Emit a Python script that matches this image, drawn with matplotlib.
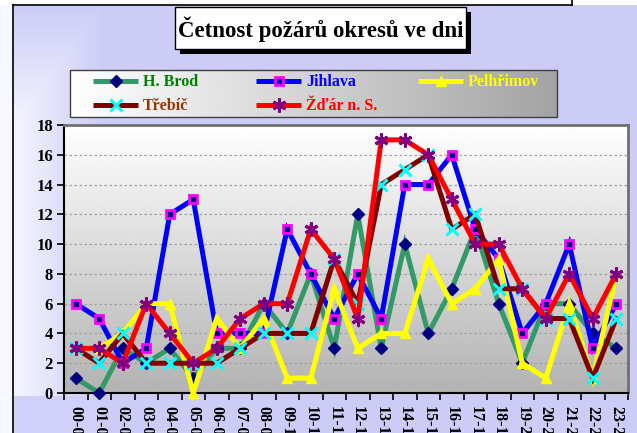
"""Četnost požárů okresů ve dni - line chart by hour of day."""

import matplotlib

matplotlib.use("Agg")
import matplotlib.pyplot as plt
from matplotlib.patches import Rectangle
import numpy as np

# hour intervals on the x axis
hours = [f"{h:02d}-{h + 1:02d}" for h in range(24)]

h_brod = [1, 0, 3, 2, 3, 1, 3, 3, 6, 4, 8, 3, 12, 3, 10, 4, 7, 11, 6, 2, 6, 6, 4, 3]
jihlava = [6, 5, 2, 3, 12, 13, 4, 4, 4, 11, 8, 5, 8, 5, 14, 14, 16, 11, 9, 4, 6, 10, 3, 6]
pelhrimov = [3, 3, 4, 6, 6, 0, 5, 3, 5, 1, 1, 7, 3, 4, 4, 9, 6, 7, 9, 2, 1, 6, 1, 8]
trebic = [3, 2, 4, 2, 2, 2, 2, 3, 4, 4, 4, 9, 6, 14, 15, 16, 11, 12, 7, 7, 5, 5, 1, 5]
zdar = [3, 3, 2, 6, 4, 2, 3, 5, 6, 6, 11, 9, 5, 17, 17, 16, 13, 10, 10, 7, 5, 8, 5, 8]

series_names = ["H. Brod", "Jihlava", "Pelhřimov", "Třebíč", "Žďár n. S."]
series_values = [h_brod, jihlava, pelhrimov, trebic, zdar]

TITLE = "Četnost požárů okresů ve dni"
FONT = "Liberation Serif"
W, H = 637, 433

# line colour, marker, marker face, marker edge, size, edge width, label colour
STYLES = [
    ("#339966", "D", "#000080", "#000080", 6.5, 1.0, "#008000"),
    ("#0000FF", "s", "#000080", "#FF00FF", 6.0, 2.0, "#0000FF"),
    ("#FFFF00", "^", "#FFFF00", "#FFFF00", 7.0, 1.0, "#FFFF00"),
    ("#800000", "x", "#00FFFF", "#00FFFF", 8.0, 2.2, "#993300"),
    ("#FF0000", (6, 2, 0), "#800080", "#800080", 10.0, 2.2, "#FF0000"),
]
# legend slots in pixels: (line x0, line x1, y)
LEGEND_SLOTS = [(93, 138, 81), (256, 301, 81), (418, 463, 81),
                (93, 138, 105), (256, 301, 105)]

fig = plt.figure(figsize=(W / 100, H / 100), dpi=100)

# ---- background canvas in pixel coordinates
bg = fig.add_axes([0, 0, 1, 1], zorder=0)
bg.set_xlim(0, W)
bg.set_ylim(H, 0)
bg.axis("off")

yy, xx = np.mgrid[0:H, 0:W]
s = np.maximum(np.clip((xx - 13) / 90.0, 0, 1), np.clip(1 - (yy - 5) / 120.0, 0, 1))
s = np.where(yy > 395, np.maximum(s, 0.9), s)
light = np.array([0.96, 0.96, 1.0])
lav = np.array([0.80, 0.80, 0.97])
img = (1 - s)[..., None] * light + s[..., None] * lav
img[:, :13] = [0.97, 0.97, 1.0]
img[:5, :] = 1.0
bg.imshow(img, extent=[0, W, H, 0], aspect="auto", interpolation="bilinear")
bg.plot([13, 13], [5, H], color="black", lw=1.2)
bg.plot([13, 572], [5, 5], color="black", lw=1.2)
bg.plot([572, 572], [0, 5], color="black", lw=1.2)

# title box with drop shadow
bg.add_patch(Rectangle((180, 12), 291, 42, facecolor="black", edgecolor="none"))
bg.add_patch(Rectangle((175, 7), 291, 42, facecolor="white", edgecolor="black", lw=1.0))
bg.text(320.5, 29, TITLE, ha="center", va="center", fontsize=16.5,
        fontweight="bold", family=FONT, color="black")

# legend box with horizontal gradient
grad = np.linspace(1.0, 0.64, 200)
bg.imshow(np.tile(grad, (2, 1)), cmap="gray", vmin=0, vmax=1,
          extent=[70, 557, 117, 70], aspect="auto", interpolation="bilinear")
bg.add_patch(Rectangle((70, 70), 487, 47, facecolor="none", edgecolor="#404040", lw=1.0))
for (x0, x1, y), name, st in zip(LEGEND_SLOTS, series_names, STYLES):
    lc, mk, mfc, mec, ms, mew, tc = st
    bg.plot([x0, x1], [y, y], color=lc, lw=3.6, solid_capstyle="butt")
    bg.plot([(x0 + x1) / 2], [y], marker=mk, ms=ms, mfc=mfc, mec=mec, mew=mew,
            linestyle="none")
    bg.text(x1 + 5, y + 1, name, ha="left", va="center", fontsize=11.5,
            fontweight="bold", family=FONT, color=tc)

# ---- main plot
ax = fig.add_axes([64 / W, 1 - 393 / H, (628 - 64) / W, (393 - 125) / H], zorder=1)
x = np.arange(len(hours))
ax.set_xlim(-0.45, 23.5)
ax.set_ylim(0, 18)
ax.set_facecolor("none")
vgrad = np.linspace(1.0, 0.70, 200)[:, None]
ax.imshow(vgrad, cmap="gray", vmin=0, vmax=1, extent=[-0.45, 23.5, 0, 18],
          aspect="auto", origin="upper", zorder=0, interpolation="bilinear")

for yv in range(2, 18, 2):
    ax.axhline(yv, color="#A0A0A0", lw=0.9, ls=(0, (2, 2)), zorder=1)

for vals, st in zip(series_values, STYLES):
    lc, mk, mfc, mec, ms, mew, tc = st
    ax.plot(x, vals, color=lc, lw=3.6, marker=mk, ms=ms, mfc=mfc, mec=mec,
            mew=mew, clip_on=False, zorder=3, solid_joinstyle="miter")

ax.set_yticks(range(0, 19, 2))
ax.set_yticklabels([str(v) for v in range(0, 19, 2)], fontsize=12,
                   fontweight="bold", family=FONT)
ax.set_xticks(x)
ax.set_xticklabels(hours, rotation=270, fontsize=11.5, fontweight="bold",
                   family=FONT, va="top", ha="center")
ax.set_xticks(np.arange(-0.5, 23.6, 1), minor=True)
ax.tick_params(axis="x", which="major", length=0, pad=9)
ax.tick_params(axis="x", which="minor", length=5, width=1.2, color="black")
ax.tick_params(axis="y", length=5, width=1.2, color="black", pad=3)

for side in ("left", "bottom"):
    ax.spines[side].set_color("black")
    ax.spines[side].set_linewidth(1.5)
for side in ("top", "right"):
    ax.spines[side].set_color("#707070")
    ax.spines[side].set_linewidth(2.0)

fig.savefig("out.png", dpi=100)
